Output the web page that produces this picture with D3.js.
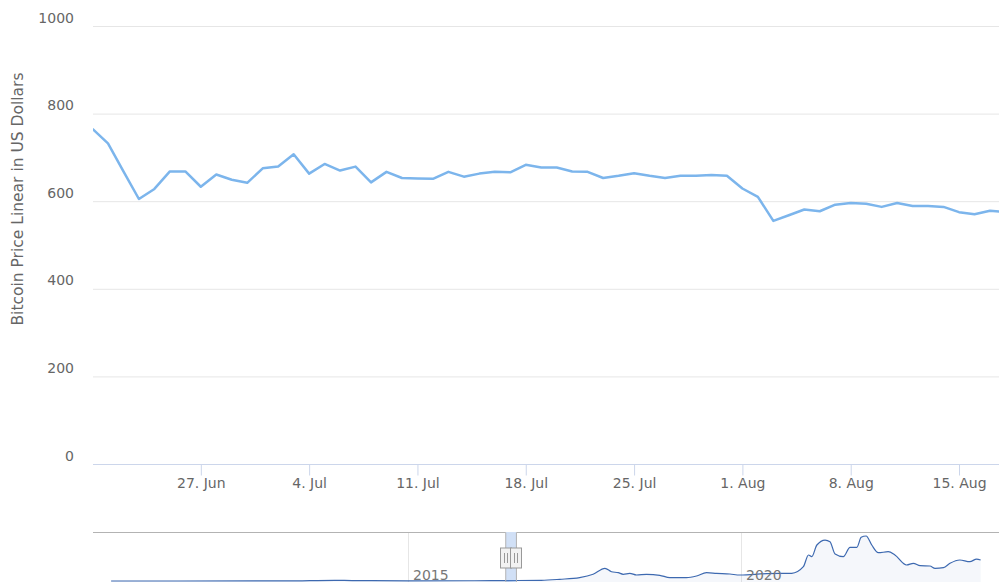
<!DOCTYPE html>
<html>
<head>
<meta charset="utf-8">
<script src="https://cdn.jsdelivr.net/npm/d3@7"></script>
<style>
  html, body { margin: 0; padding: 0; background: #fff; }
  svg { display: block; font-family: "DejaVu Sans", sans-serif; }
</style>
</head>
<body>
<svg id="chart" width="999" height="582"></svg>
<script>
// daily closes shown in the zoomed window (20 Jun - 18 Aug 2016)
var dayDates = [
  "2016-06-20","2016-06-21","2016-06-22","2016-06-23","2016-06-24","2016-06-25","2016-06-26",
  "2016-06-27","2016-06-28","2016-06-29","2016-06-30","2016-07-01","2016-07-02","2016-07-03",
  "2016-07-04","2016-07-05","2016-07-06","2016-07-07","2016-07-08","2016-07-09","2016-07-10",
  "2016-07-11","2016-07-12","2016-07-13","2016-07-14","2016-07-15","2016-07-16","2016-07-17",
  "2016-07-18","2016-07-19","2016-07-20","2016-07-21","2016-07-22","2016-07-23","2016-07-24",
  "2016-07-25","2016-07-26","2016-07-27","2016-07-28","2016-07-29","2016-07-30","2016-07-31",
  "2016-08-01","2016-08-02","2016-08-03","2016-08-04","2016-08-05","2016-08-06","2016-08-07",
  "2016-08-08","2016-08-09","2016-08-10","2016-08-11","2016-08-12","2016-08-13","2016-08-14",
  "2016-08-15","2016-08-16","2016-08-17","2016-08-18"
];
var dayPrices = [
  765, 732, 668, 605, 628, 668, 668,
  633, 661, 649, 642, 675, 679, 707,
  663, 685, 670, 679, 643, 667, 653,
  652, 651, 667, 656, 663, 667, 666,
  683, 677, 677, 668, 667, 653, 658,
  664, 658, 653, 658, 658, 660, 658,
  629, 610, 555, 568, 581, 577, 592,
  596, 594, 587, 596, 589, 589, 587,
  575, 570, 578, 575
];

// whole history for the navigator strip
var navDates = [
  "2010-07-18","2013-03-01","2013-11-25","2014-03-01","2015-01-01","2016-01-01","2016-07-01",
  "2017-01-01","2017-04-12","2017-07-30","2017-10-12","2017-12-16","2018-01-21","2018-02-27",
  "2018-03-26","2018-05-01","2018-06-07","2018-08-01","2018-10-13","2018-12-07","2019-03-08",
  "2019-05-02","2019-06-26","2019-08-20","2019-11-01","2019-12-26","2020-05-21","2020-08-03",
  "2020-10-05","2020-12-08","2021-01-05","2021-01-23","2021-02-20","2021-04-06","2021-05-03",
  "2021-05-31","2021-07-15","2021-08-21","2021-09-27","2021-10-21","2021-11-17","2021-12-18",
  "2022-01-23","2022-03-18","2022-04-24","2022-06-27","2022-08-03","2022-09-09","2022-11-02",
  "2022-11-30","2023-01-15","2023-02-20","2023-04-15","2023-06-09","2023-07-16","2023-08-07"
];
var navPrices = [
  0, 100, 1000, 600, 300, 400, 650,
  1000, 2500, 5000, 10000, 18900, 13800, 12400,
  10000, 11400, 8900, 10000, 8500, 4900, 4900,
  7400, 12400, 11400, 10400, 8900, 11000, 11400,
  11500, 21300, 38700, 36200, 53600, 61000, 58500,
  40200, 36200, 50100, 50100, 65000, 67000, 53600,
  42100, 43600, 38700, 23800, 26300, 22800, 22300,
  18900, 19800, 26300, 31300, 28700, 32700, 31300
];

var yTicks = [0, 200, 400, 600, 800, 1000];
var xTickDates = ["2016-06-27","2016-07-04","2016-07-11","2016-07-18","2016-07-25","2016-08-01","2016-08-08","2016-08-15"];
var navYears = ["2015-01-01", "2020-01-01"];
var yTitle = "Bitcoin Price Linear in US Dollars";

var parse = d3.timeParse("%Y-%m-%d");
var svg = d3.select("#chart");

var x = d3.scaleTime()
    .domain([parse("2016-06-20"), new Date(2016, 7, 17, 14)])
    .range([92.5, 999]);
var y = d3.scaleLinear().domain([0, 1000]).range([464, 26]);

// grid
svg.append("g")
    .selectAll("line")
    .data(yTicks.filter(function(d) { return d > 0; }))
    .enter().append("line")
    .attr("x1", 93).attr("x2", 999)
    .attr("y1", function(d) { return y(d) + 0.5; })
    .attr("y2", function(d) { return y(d) + 0.5; })
    .attr("stroke", "#e6e6e6");

// y labels
svg.append("g")
    .selectAll("text")
    .data(yTicks)
    .enter().append("text")
    .attr("x", 74)
    .attr("y", function(d) { return y(d) - 3.5; })
    .attr("text-anchor", "end")
    .attr("fill", "#666")
    .style("font-size", "14px")
    .text(function(d) { return d; });

svg.append("text")
    .attr("transform", "translate(23,199) rotate(-90)")
    .attr("text-anchor", "middle")
    .attr("fill", "#666")
    .style("font-size", "15.5px")
    .text(yTitle);

// x axis
var xAxis = d3.axisBottom(x)
    .tickValues(xTickDates.map(parse))
    .tickFormat(d3.timeFormat("%-d. %b"))
    .tickSize(11)
    .tickSizeOuter(0);

var gx = svg.append("g")
    .attr("transform", "translate(0,464.5)")
    .call(xAxis);
gx.select(".domain").attr("stroke", "#ccd6eb").attr("d", "M93,0H999");
gx.selectAll(".tick line").attr("stroke", "#ccd6eb");
gx.selectAll(".tick text")
    .attr("fill", "#666")
    .attr("y", 14)
    .style("font-size", "14px")
    .style("font-family", "DejaVu Sans, sans-serif");

// main series
svg.append("clipPath").attr("id", "plotClip")
  .append("rect").attr("x", 93).attr("y", 0).attr("width", 906).attr("height", 470);

var line = d3.line()
    .x(function(d, i) { return x(parse(dayDates[i])); })
    .y(function(d) { return y(d); });

svg.append("path")
    .datum(dayPrices)
    .attr("clip-path", "url(#plotClip)")
    .attr("d", line)
    .attr("fill", "none")
    .attr("stroke", "#7cb5ec")
    .attr("stroke-width", 2.5)
    .attr("stroke-linejoin", "round");

// navigator
var nx = d3.scaleTime()
    .domain([parse("2015-01-01"), parse("2020-01-01")])
    .range([408, 741]);
var ny = d3.scaleLinear().domain([0, 67000]).range([581, 536]);

var nav = svg.append("g");

nav.selectAll("line.ngrid")
    .data(navYears)
    .enter().append("line")
    .attr("class", "ngrid")
    .attr("x1", function(d) { return Math.round(nx(parse(d))) + 0.5; })
    .attr("x2", function(d) { return Math.round(nx(parse(d))) + 0.5; })
    .attr("y1", 532).attr("y2", 582)
    .attr("stroke", "#e6e6e6");

var navArea = d3.area()
    .x(function(d, i) { return nx(parse(navDates[i])); })
    .y0(590)
    .y1(function(d) { return ny(d); })
    .curve(d3.curveMonotoneX);

var navLine = d3.line()
    .x(function(d, i) { return nx(parse(navDates[i])); })
    .y(function(d) { return ny(d); })
    .curve(d3.curveMonotoneX);

nav.append("path").datum(navPrices)
    .attr("d", navArea)
    .attr("fill", "#335cad").attr("fill-opacity", 0.05);

nav.append("path").datum(navPrices)
    .attr("d", navLine)
    .attr("fill", "none")
    .attr("stroke", "#3d69b0")
    .attr("stroke-width", 1.2);

// selected window
var selX0 = nx(x.domain()[0]), selX1 = nx(x.domain()[1]);
nav.append("rect")
    .attr("x", selX0).attr("y", 532)
    .attr("width", selX1 - selX0).attr("height", 52)
    .attr("fill", "rgba(102,153,224,0.3)");

nav.append("path")
    .attr("d", "M93,532.5H" + selX0 + "V590M" + selX1 + ",590V532.5H999")
    .attr("fill", "none")
    .attr("stroke", "#b3b3b3");

nav.selectAll("text")
    .data(navYears)
    .enter().append("text")
    .attr("x", function(d) { return nx(parse(d)) + 5; })
    .attr("y", 580)
    .attr("fill", "#777")
    .style("font-size", "14px")
    .text(function(d) { return parse(d).getFullYear(); });

// handles
[selX0, selX1].forEach(function(cx) {
    var h = nav.append("g").attr("transform", "translate(" + Math.round(cx) + ",0)");
    h.append("rect")
        .attr("x", -5.5).attr("y", 548)
        .attr("width", 11).attr("height", 20)
        .attr("fill", "#f2f2f2").attr("stroke", "#999");
    h.append("path")
        .attr("d", "M-1.5,553V563M1.5,553V563")
        .attr("stroke", "#999").attr("fill", "none");
});
</script>
</body>
</html>
